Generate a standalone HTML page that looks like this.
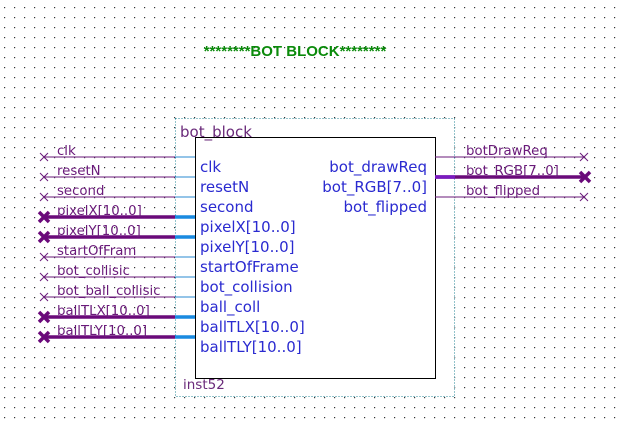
<!DOCTYPE html>
<html><head><meta charset="utf-8"><style>
html,body{margin:0;padding:0;background:#fff;}
svg{display:block;}
.wl{font-family:"DejaVu Sans","Liberation Sans",sans-serif;font-size:13.3px;fill:#6a1a7a;}
.pl{font-family:"DejaVu Sans","Liberation Sans",sans-serif;font-size:15px;fill:#2a2ad0;}
</style></head><body>
<svg width="617" height="427" xmlns="http://www.w3.org/2000/svg">
<defs>
<pattern id="g" x="0" y="0" width="10" height="10" patternUnits="userSpaceOnUse">
<rect x="4" y="7" width="1.2" height="1.2" fill="#333"/>
</pattern>
<clipPath id="lc"><rect x="50" y="100" width="115" height="260"/></clipPath>
<clipPath id="rc"><rect x="460" y="130" width="107" height="80"/></clipPath>
</defs>
<rect width="617" height="427" fill="url(#g)"/>
<text x="295" y="56" text-anchor="middle" font-family="Liberation Sans,sans-serif" font-weight="bold" font-size="15" fill="#0a8a0a">********BOT BLOCK********</text>
<rect x="175.5" y="118.5" width="279" height="278" fill="#fff" stroke="#2a8a9a" stroke-dasharray="1,2"/>
<rect x="195.5" y="137.5" width="240" height="241" fill="#fff" stroke="#000"/>
<text x="180" y="137" font-family="DejaVu Sans,sans-serif" font-size="15" fill="#6a2a7a">bot_block</text>
<text x="183" y="389" font-family="DejaVu Sans,sans-serif" font-size="13.5" fill="#6a2a7a">inst52</text>
<g>
<g stroke="#6a1a7a" stroke-width="1">
<line x1="44" y1="157" x2="175" y2="157"/><line x1="44" y1="177" x2="175" y2="177"/><line x1="44" y1="197" x2="175" y2="197"/>
<line x1="44" y1="257" x2="175" y2="257"/><line x1="44" y1="277" x2="175" y2="277"/><line x1="44" y1="297" x2="175" y2="297"/>
</g>
<g stroke="#2a8ad0" stroke-width="1">
<line x1="175" y1="157" x2="195" y2="157"/><line x1="175" y1="177" x2="195" y2="177"/><line x1="175" y1="197" x2="195" y2="197"/>
<line x1="175" y1="257" x2="195" y2="257"/><line x1="175" y1="277" x2="195" y2="277"/><line x1="175" y1="297" x2="195" y2="297"/>
</g>
<g stroke="#6a0a7a" stroke-width="3.5">
<line x1="44" y1="217" x2="175" y2="217"/><line x1="44" y1="237" x2="175" y2="237"/>
<line x1="44" y1="317" x2="175" y2="317"/><line x1="44" y1="337" x2="175" y2="337"/>
</g>
<g stroke="#1a8ae0" stroke-width="3.5">
<line x1="175" y1="217" x2="195" y2="217"/><line x1="175" y1="237" x2="195" y2="237"/>
<line x1="175" y1="317" x2="195" y2="317"/><line x1="175" y1="337" x2="195" y2="337"/>
</g>
<g stroke="#6a1a7a" stroke-width="1">
<path d="M40 153l8 8M48 153l-8 8"/><path d="M40 173l8 8M48 173l-8 8"/><path d="M40 193l8 8M48 193l-8 8"/>
<path d="M40 253l8 8M48 253l-8 8"/><path d="M40 273l8 8M48 273l-8 8"/><path d="M40 293l8 8M48 293l-8 8"/>
<path d="M580 153l8 8M588 153l-8 8"/><path d="M580 193l8 8M588 193l-8 8"/>
</g>
<g stroke="#6a0a7a" stroke-width="3.5">
<path d="M39 212l10 10M49 212l-10 10"/><path d="M39 232l10 10M49 232l-10 10"/>
<path d="M39 312l10 10M49 312l-10 10"/><path d="M39 332l10 10M49 332l-10 10"/>
<path d="M580 172l10 10M590 172l-10 10"/>
</g>
<g stroke="#6a1a7a" stroke-width="1">
<line x1="435" y1="157" x2="584" y2="157"/><line x1="435" y1="197" x2="584" y2="197"/>
</g>
<line x1="435" y1="177" x2="584" y2="177" stroke="#6a0a7a" stroke-width="3.5"/>
<line x1="435" y1="177" x2="455" y2="177" stroke="#7a1ac0" stroke-width="3.5"/>
</g>
<g class="wl" clip-path="url(#lc)">
<text x="57" y="155">clk</text><text x="57" y="175">resetN</text><text x="57" y="195">second</text>
<text x="57" y="215">pixelX[10..0]</text><text x="57" y="235">pixelY[10..0]</text><text x="57" y="255">startOfFram</text>
<text x="57" y="275">bot_collisic</text><text x="57" y="295">bot_ball_collisic</text>
<text x="57" y="315">ballTLX[10..0]</text><text x="57" y="335">ballTLY[10..0]</text>
</g>
<g class="wl" clip-path="url(#rc)">
<text x="466" y="155">botDrawReq</text><text x="466" y="175">bot_RGB[7..0]</text><text x="466" y="195">bot_flipped</text>
</g>
<g class="pl">
<text x="200" y="172">clk</text><text x="200" y="192">resetN</text><text x="200" y="212">second</text>
<text x="200" y="232">pixelX[10..0]</text><text x="200" y="252">pixelY[10..0]</text><text x="200" y="272">startOfFrame</text>
<text x="200" y="292">bot_collision</text><text x="200" y="312">ball_coll</text>
<text x="200" y="332">ballTLX[10..0]</text><text x="200" y="352">ballTLY[10..0]</text>
<text x="427" y="172" text-anchor="end">bot_drawReq</text>
<text x="427" y="192" text-anchor="end">bot_RGB[7..0]</text>
<text x="427" y="212" text-anchor="end">bot_flipped</text>
</g>
</svg>
</body></html>
